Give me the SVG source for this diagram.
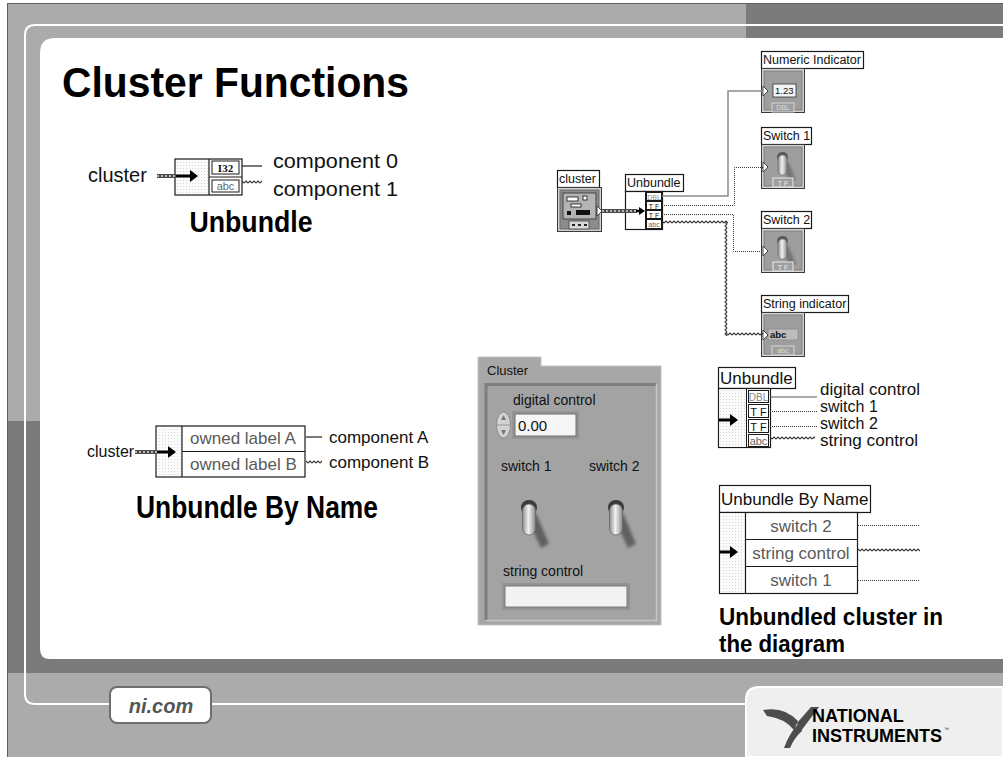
<svg xmlns="http://www.w3.org/2000/svg" width="1003" height="757" viewBox="0 0 1003 757">
<defs>
<style>
.sans{font-family:"Liberation Sans",Arial,sans-serif;}
.lbl{font-family:"Liberation Sans",Arial,sans-serif;font-size:12.5px;fill:#111;}
.cap{font-family:"Liberation Sans",Arial,sans-serif;font-size:17px;fill:#111;}
.out{font-family:"Liberation Sans",Arial,sans-serif;font-size:16px;fill:#111;}
.own{font-family:"Liberation Sans",Arial,sans-serif;font-size:17px;fill:#5a5a5a;}
.hd{font-family:"Liberation Sans",Arial,sans-serif;font-weight:bold;fill:#000;}
.fp{font-family:"Liberation Sans",Arial,sans-serif;font-size:14px;fill:#111;}
.tiny{font-family:"Liberation Sans",Arial,sans-serif;font-size:7px;}
.box{fill:#fff;stroke:#1a1a1a;stroke-width:1.2;}
.cell{fill:#fff;stroke:#1a1a1a;stroke-width:1;}
.solid{fill:none;stroke:#222;stroke-width:1.2;}
.num{fill:none;stroke:#8c8c8c;stroke-width:1.5;}
.bool{fill:none;stroke:#3a3a3a;stroke-width:1;stroke-dasharray:1 1;}
.cw{stroke:#4a4a4a;stroke-width:4;}
.cwi{stroke:#d8d8d8;stroke-width:1.4;stroke-dasharray:2 2;}
.arrow{fill:#000;}
.term{fill:#d2d2d2;stroke:#3a3a3a;stroke-width:1;}
.termin{fill:#9e9e9e;stroke:#7c7c7c;stroke-width:1;}
.tri{fill:#fff;stroke:#222;stroke-width:0.8;}
</style>
<pattern id="dots" width="3" height="3" patternUnits="userSpaceOnUse">
<rect width="3" height="3" fill="#fbfbfb"/><rect width="1" height="1" fill="#d6d6d6"/>
</pattern>
<pattern id="wzH" width="4" height="4" patternUnits="userSpaceOnUse">
<path d="M0,3 L2,1 L4,3" fill="none" stroke="#333" stroke-width="1.1"/>
</pattern>
<pattern id="wzV" width="4" height="4" patternUnits="userSpaceOnUse">
<path d="M3,0 L1,2 L3,4" fill="none" stroke="#333" stroke-width="1.1"/>
</pattern>
<linearGradient id="tog" x1="0" y1="0" x2="1" y2="0">
<stop offset="0" stop-color="#8e8e8e"/><stop offset="0.45" stop-color="#f2f2f2"/><stop offset="1" stop-color="#8a8a8a"/>
</linearGradient>
<filter id="soft" x="-50%" y="-50%" width="200%" height="200%">
<feGaussianBlur stdDeviation="1.6"/>
</filter>
</defs>

<!-- slide backdrop and frame -->
<g id="backdrop">
<rect width="1003" height="757" fill="#fff"/>
<rect x="7" y="3" width="996" height="754" fill="#ababab"/>
<rect x="746" y="4" width="257" height="34" fill="#7b7b7b"/>
<rect x="8" y="421" width="33" height="252" fill="#7b7b7b"/>
<rect x="8" y="655" width="995" height="18" fill="#7b7b7b"/>
<path d="M55,38 H1003 V659 H50 Q40,659 40,649 V53 Q40,38 55,38 Z" fill="#fff"/>
<path d="M110,704 H35 Q25,704 25,694 V35 Q25,25 35,25 H1003" fill="none" stroke="#fff" stroke-width="2"/>
<line x1="211" y1="704" x2="746" y2="704" stroke="#fff" stroke-width="2"/>
<line x1="7.5" y1="3" x2="7.5" y2="757" stroke="#5e5e5e"/>
<line x1="7" y1="3.5" x2="1003" y2="3.5" stroke="#5e5e5e"/>
</g>

<!-- footer: ni.com tab -->
<g id="nicom">
<rect x="110" y="687" width="101" height="36" rx="7" fill="#fff" stroke="#6e6e6e" stroke-width="2"/>
<text x="161" y="713" text-anchor="middle" class="sans" font-size="20" font-weight="bold" font-style="italic" fill="#555">ni.com</text>
</g>

<!-- footer: company logo -->
<g id="ni-logo">
<path d="M746,757 V700 Q746,687 759,687 H1003 V757 Z" fill="#efefef" stroke="#fff" stroke-width="2"/>
<path d="M763,710 Q784,706 798,721 L794,730 Q784,718 767,716 Z" fill="#4d4d4d"/>
<path d="M797,723 L811,707 L819,707 L801,731 Z" fill="#4d4d4d"/>
<path d="M798,724 L802,731 Q794,738 790,748 L784,748 Q789,734 798,724 Z" fill="#4d4d4d"/>
<text x="812" y="722" class="hd" font-size="18" fill="#2a2a2a">NATIONAL</text>
<text x="812" y="742" class="hd" font-size="18" fill="#2a2a2a">INSTRUMENTS</text>
<text x="944" y="731" class="sans" font-size="5" fill="#2a2a2a">™</text>
</g>

<!-- title -->
<text id="title" x="62" y="97" class="hd" font-size="42" textLength="347" lengthAdjust="spacingAndGlyphs">Cluster Functions</text>

<!-- Unbundle node, top left -->
<g id="unbundle-icon">
<text x="88" y="182" class="sans" font-size="20" fill="#111">cluster</text>
<rect x="175" y="159" width="67" height="36" class="box"/>
<rect x="176" y="160" width="33" height="34" fill="url(#dots)"/>
<line x1="209" y1="159" x2="209" y2="195" stroke="#1a1a1a" stroke-width="1.2"/>
<line x1="209" y1="177" x2="242" y2="177" stroke="#1a1a1a" stroke-width="1"/>
<rect x="212" y="161" width="27" height="13" class="cell"/>
<text x="225.5" y="172" text-anchor="middle" font-family="Liberation Serif,serif" font-size="11" font-weight="bold" fill="#111">I32</text>
<rect x="212" y="180" width="27" height="12" class="cell"/>
<text x="225.5" y="190" text-anchor="middle" class="sans" font-size="11" fill="#666">abc</text>
<text x="273" y="168" class="sans" font-size="21" fill="#111" textLength="125" lengthAdjust="spacingAndGlyphs">component 0</text>
<text x="273" y="196" class="sans" font-size="21" fill="#111" textLength="125" lengthAdjust="spacingAndGlyphs">component 1</text>
<text x="251" y="232" text-anchor="middle" class="hd" font-size="30" textLength="123" lengthAdjust="spacingAndGlyphs">Unbundle</text>
</g>

<!-- Unbundle By Name node, left -->
<g id="unbundle-by-name-icon">
<text x="87" y="457" class="sans" font-size="16" fill="#111">cluster</text>
<rect x="156" y="426" width="149" height="51" class="box"/>
<rect x="157" y="427" width="25" height="49" fill="url(#dots)"/>
<line x1="182" y1="426" x2="182" y2="477" stroke="#1a1a1a" stroke-width="1.2"/>
<line x1="182" y1="451.5" x2="305" y2="451.5" stroke="#1a1a1a" stroke-width="1.2"/>
<text x="190" y="444" class="own">owned label A</text>
<text x="190" y="470" class="own">owned label B</text>
<text x="329" y="443" class="sans" font-size="17" fill="#111">component A</text>
<text x="329" y="468" class="sans" font-size="17" fill="#111">component B</text>
<text x="257" y="518" text-anchor="middle" class="hd" font-size="31" textLength="242" lengthAdjust="spacingAndGlyphs">Unbundle By Name</text>
</g>

<!-- block diagram: cluster control -->
<g id="cluster-terminal">
<rect x="557.5" y="170.5" width="42" height="17" class="box"/>
<text x="559" y="183" class="lbl">cluster</text>
<rect x="557.5" y="187.5" width="44" height="44" class="term"/>
<rect x="560" y="190" width="39" height="39" fill="#8c8c8c" stroke="#6a6a6a"/>
<rect x="563" y="193" width="33" height="26" fill="#b4b4b4" stroke="#444"/>
<rect x="567" y="197" width="11" height="4" fill="#fff" stroke="#111" stroke-width="0.8"/>
<rect x="583" y="196" width="4" height="4" fill="#fff" stroke="#111" stroke-width="0.8"/>
<rect x="571" y="204" width="10" height="3" fill="#fff" stroke="#111" stroke-width="0.8"/>
<rect x="567" y="211" width="4" height="4" fill="#111"/>
<rect x="576" y="210" width="14" height="5" fill="#111"/>
<rect x="569" y="221" width="20" height="8" fill="#d8d8d8" stroke="#444" stroke-width="0.8"/>
<path d="M572,225 h3 M578,225 h3 M584,225 h3" stroke="#222" stroke-width="2"/>
<path d="M597,206 L602,211 L597,216 Z" class="tri"/>
</g>

<!-- block diagram: Unbundle node -->
<g id="unbundle-node">
<rect x="625.5" y="174.5" width="58" height="17" class="box"/>
<text x="627" y="187" class="lbl">Unbundle</text>
<rect x="625.5" y="191.5" width="37" height="38" class="box"/>
<line x1="645.5" y1="191.5" x2="645.5" y2="229.5" stroke="#1a1a1a"/>
<rect x="646.5" y="192.5" width="15" height="8" class="cell"/>
<text x="654" y="199.5" text-anchor="middle" class="tiny" fill="#888">DBL</text>
<rect x="646.5" y="201.5" width="15" height="8" class="cell"/>
<text x="654" y="208.5" text-anchor="middle" class="tiny" fill="#111">T F</text>
<rect x="646.5" y="210.5" width="15" height="8" class="cell"/>
<text x="654" y="217.5" text-anchor="middle" class="tiny" fill="#111">T F</text>
<rect x="646.5" y="219.5" width="15" height="9" class="cell"/>
<text x="654" y="227" text-anchor="middle" class="tiny" fill="#666">abc</text>
</g>

<!-- block diagram: indicators -->
<g id="numeric-indicator">
<rect x="761.5" y="51.5" width="102" height="17" class="box"/>
<text x="763" y="64" class="lbl">Numeric Indicator</text>
<rect x="761.5" y="68.5" width="43" height="44" class="term"/>
<rect x="764" y="71" width="38" height="39" class="termin"/>
<rect x="773" y="84" width="23" height="13" fill="#f4f4f4" stroke="#333" stroke-width="0.8"/>
<text x="775" y="94" class="sans" font-size="9.5" fill="#111">1.23</text>
<path d="M763,86 L768,91 L763,96 Z" class="tri"/>
<rect x="772" y="103" width="22" height="9" fill="#9e9e9e" stroke="#d6d6d6" stroke-width="1"/>
<text x="783" y="110" text-anchor="middle" class="tiny" fill="#dedede">DBL</text>
</g>

<g id="switch-1">
<rect x="761.5" y="127.5" width="50" height="17" class="box"/>
<text x="763" y="140" class="lbl">Switch 1</text>
<rect x="761.5" y="144.5" width="43" height="44" class="term"/>
<rect x="764" y="147" width="38" height="39" class="termin"/>
<path d="M781,165 L788,161 L796,180 L790,182 Z" fill="#666" opacity="0.75" filter="url(#soft)"/>
<rect x="777" y="152" width="11" height="10" rx="5" fill="#5a5a5a"/>
<rect x="778" y="155" width="9" height="20" rx="4.5" fill="url(#tog)" stroke="#666" stroke-width="0.6"/>
<path d="M763,162 L768,167 L763,172 Z" class="tri"/>
<rect x="773" y="178" width="20" height="9" fill="#9e9e9e" stroke="#eaeaea" stroke-width="1"/>
<text x="783" y="185.5" text-anchor="middle" class="tiny" fill="#f0f0f0">T F</text>
</g>

<g id="switch-2">
<rect x="761.5" y="211.5" width="50" height="17" class="box"/>
<text x="763" y="224" class="lbl">Switch 2</text>
<rect x="761.5" y="228.5" width="43" height="44" class="term"/>
<rect x="764" y="231" width="38" height="39" class="termin"/>
<path d="M781,249 L788,245 L796,264 L790,266 Z" fill="#666" opacity="0.75" filter="url(#soft)"/>
<rect x="777" y="236" width="11" height="10" rx="5" fill="#5a5a5a"/>
<rect x="778" y="239" width="9" height="20" rx="4.5" fill="url(#tog)" stroke="#666" stroke-width="0.6"/>
<path d="M763,246 L768,251 L763,256 Z" class="tri"/>
<rect x="773" y="262" width="20" height="9" fill="#9e9e9e" stroke="#eaeaea" stroke-width="1"/>
<text x="783" y="269.5" text-anchor="middle" class="tiny" fill="#f0f0f0">T F</text>
</g>

<g id="string-indicator">
<rect x="761.5" y="295.5" width="87" height="17" class="box"/>
<text x="763" y="308" class="lbl">String indicator</text>
<rect x="761.5" y="312.5" width="43" height="44" class="term"/>
<rect x="764" y="315" width="38" height="39" class="termin"/>
<rect x="768" y="329" width="30" height="11" fill="#bcbcbc" stroke="#8a8a8a" stroke-width="0.8"/>
<text x="770" y="338" class="sans" font-size="9.5" font-weight="bold" fill="#111">abc</text>
<path d="M763,330 L768,335 L763,340 Z" class="tri"/>
<rect x="772" y="346" width="22" height="9" fill="#9e9e9e" stroke="#d6d6d6" stroke-width="1"/>
<text x="783" y="353" text-anchor="middle" class="tiny" fill="#dedede">abc</text>
</g>

<!-- front panel: cluster control -->
<g id="front-panel">
<path d="M478,357 H541 V366 H661 V625 H478 Z" fill="#a7a7a7" stroke="#c2c2c2" stroke-width="1"/>
<text x="487" y="375" class="sans" font-size="13" fill="#111">Cluster</text>
<rect x="485" y="383" width="172" height="238" fill="#a3a3a3"/>
<path d="M486,620 V384.5 H656" fill="none" stroke="#7e7e7e" stroke-width="3"/>
<path d="M486,620.5 H656.5 V384" fill="none" stroke="#c6c6c6" stroke-width="1.5"/>
<text x="513" y="405" class="fp">digital control</text>
<ellipse cx="503.5" cy="425" rx="7" ry="13" fill="#d2d2d2" stroke="#8c8c8c"/>
<line x1="497" y1="425" x2="510" y2="425" stroke="#8c8c8c" stroke-width="0.8"/>
<path d="M501,420 L503.5,415 L506,420 Z M501,430 L503.5,435 L506,430 Z" fill="#777"/>
<rect x="512" y="411" width="67" height="28" fill="#949494"/>
<rect x="515" y="414" width="61" height="22" fill="#f6f6f6" stroke="#6e6e6e" stroke-width="1"/>
<text x="518" y="431" class="sans" font-size="15" fill="#111">0.00</text>
<text x="501" y="471" class="fp">switch 1</text>
<text x="589" y="471" class="fp">switch 2</text>
<path d="M527,518 L536,513 L549,544 L541,548 Z" fill="#444" opacity="0.7" filter="url(#soft)"/>
<rect x="521" y="500" width="16" height="15" rx="7.5" fill="#3a3a3a"/>
<rect x="522.5" y="504" width="13" height="31" rx="6.5" fill="url(#tog)" stroke="#666" stroke-width="0.8"/>
<path d="M614,518 L623,513 L636,544 L628,548 Z" fill="#444" opacity="0.7" filter="url(#soft)"/>
<rect x="608" y="500" width="16" height="15" rx="7.5" fill="#3a3a3a"/>
<rect x="609.5" y="504" width="13" height="31" rx="6.5" fill="url(#tog)" stroke="#666" stroke-width="0.8"/>
<text x="503" y="576" class="fp">string control</text>
<rect x="502" y="583" width="128" height="27" fill="#939393"/>
<rect x="505" y="586" width="122" height="21" fill="#f2f2f2" stroke="#7a7a7a" stroke-width="1"/>
</g>

<!-- Unbundle node, right -->
<g id="unbundle-right">
<rect x="718.5" y="367.5" width="77" height="21" class="box"/>
<text x="720" y="384" class="cap">Unbundle</text>
<rect x="718.5" y="388.5" width="52" height="59" class="box"/>
<rect x="719.5" y="389.5" width="27" height="57" fill="url(#dots)"/>
<line x1="746.5" y1="388.5" x2="746.5" y2="447.5" stroke="#1a1a1a"/>
<rect x="748.5" y="390.5" width="20" height="12" class="cell"/>
<text x="758.5" y="400.5" text-anchor="middle" class="sans" font-size="10" fill="#888">DBL</text>
<rect x="748.5" y="404.5" width="20" height="13" class="cell"/>
<text x="758.5" y="415.5" text-anchor="middle" class="sans" font-size="11" fill="#111">T F</text>
<rect x="748.5" y="419.5" width="20" height="13" class="cell"/>
<text x="758.5" y="430.5" text-anchor="middle" class="sans" font-size="11" fill="#111">T F</text>
<rect x="748.5" y="434.5" width="20" height="12" class="cell"/>
<text x="758.5" y="444.5" text-anchor="middle" class="sans" font-size="11" fill="#666">abc</text>
<text x="820" y="395" class="out" textLength="100" lengthAdjust="spacingAndGlyphs">digital control</text>
<text x="820" y="412" class="out">switch 1</text>
<text x="820" y="429" class="out">switch 2</text>
<text x="820" y="446" class="out" textLength="98" lengthAdjust="spacingAndGlyphs">string control</text>
</g>

<!-- Unbundle By Name node, right -->
<g id="unbundle-by-name-right">
<rect x="719.5" y="485.5" width="151" height="27" class="box"/>
<text x="721" y="505" class="cap">Unbundle By Name</text>
<rect x="719.5" y="512.5" width="138" height="81" class="box"/>
<rect x="720.5" y="513.5" width="24" height="79" fill="url(#dots)"/>
<line x1="745.5" y1="512.5" x2="745.5" y2="593.5" stroke="#1a1a1a" stroke-width="1.2"/>
<line x1="745.5" y1="539.5" x2="857.5" y2="539.5" stroke="#1a1a1a" stroke-width="1.2"/>
<line x1="745.5" y1="566.5" x2="857.5" y2="566.5" stroke="#1a1a1a" stroke-width="1.2"/>
<text x="801" y="532" text-anchor="middle" class="own">switch 2</text>
<text x="801" y="559" text-anchor="middle" class="own">string control</text>
<text x="801" y="586" text-anchor="middle" class="own">switch 1</text>
<text x="719" y="625" class="hd" font-size="24" textLength="224" lengthAdjust="spacingAndGlyphs">Unbundled cluster in</text>
<text x="719" y="652" class="hd" font-size="24" textLength="126" lengthAdjust="spacingAndGlyphs">the diagram</text>
</g>

<!-- wires -->
<g id="connectors">
<!-- top-left Unbundle -->
<line x1="157" y1="176" x2="176" y2="176" class="cw"/>
<line x1="157" y1="176" x2="176" y2="176" class="cwi"/>
<path d="M176,174.5 H190 V170 L198,176 L190,182 V177.5 H176 Z" class="arrow"/>
<line x1="242" y1="166" x2="262" y2="166" class="solid"/>
<rect x="242" y="180" width="20" height="4" fill="url(#wzH)"/>

<!-- left Unbundle By Name -->
<line x1="135" y1="452" x2="157" y2="452" class="cw"/>
<line x1="135" y1="452" x2="157" y2="452" class="cwi"/>
<path d="M157,450.5 H168 V446 L176,452 L168,458 V453.5 H157 Z" class="arrow"/>
<line x1="306" y1="437" x2="322" y2="437" class="solid"/>
<rect x="306" y="460" width="16" height="4" fill="url(#wzH)"/>

<!-- block diagram -->
<line x1="602" y1="211" x2="637" y2="211" class="cw"/>
<line x1="602" y1="211" x2="637" y2="211" class="cwi"/>
<path d="M636,209.8 H639 V207 L645,211 L639,215 V212.2 H636 Z" class="arrow"/>
<polyline points="662,196 728,196 728,91 763,91" class="num"/>
<polyline points="662,205.5 734.5,205.5 734.5,167.5 763,167.5" class="bool"/>
<polyline points="662,214.5 733.5,214.5 733.5,251.5 763,251.5" class="bool"/>
<rect x="662" y="220" width="66" height="4" fill="url(#wzH)"/>
<rect x="724" y="222" width="4" height="114" fill="url(#wzV)"/>
<rect x="726" y="332" width="37" height="4" fill="url(#wzH)"/>

<!-- right Unbundle -->
<path d="M719,418.5 H730 V414 L738,420 L730,426 V421.5 H719 Z" class="arrow"/>
<line x1="770" y1="397" x2="817" y2="397" stroke="#555" stroke-width="1.2"/>
<line x1="770" y1="411.5" x2="817" y2="411.5" class="bool"/>
<line x1="770" y1="426.5" x2="817" y2="426.5" class="bool"/>
<rect x="770" y="436" width="45" height="4" fill="url(#wzH)"/>

<!-- right Unbundle By Name -->
<path d="M720,550.5 H730 V546 L738,552 L730,558 V553.5 H720 Z" class="arrow"/>
<line x1="858" y1="525.5" x2="920" y2="525.5" class="bool"/>
<rect x="858" y="548" width="62" height="4" fill="url(#wzH)"/>
<line x1="858" y1="580.5" x2="920" y2="580.5" class="bool"/>
</g>
</svg>
